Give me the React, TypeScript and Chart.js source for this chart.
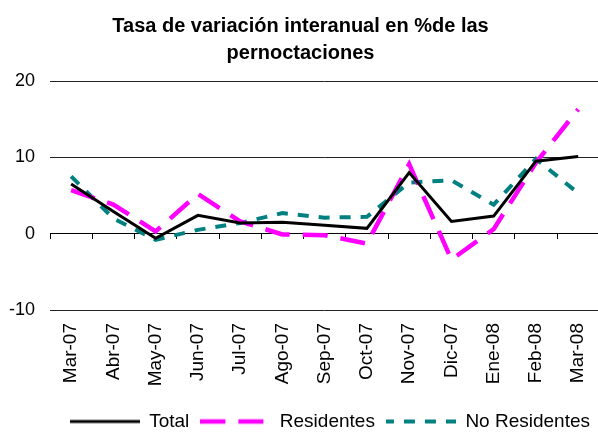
import React, { useEffect, useRef } from "react";
import { Chart, registerables } from "chart.js";

Chart.register(...registerables);

const categories = ["Mar-07", "Abr-07", "May-07", "Jun-07", "Jul-07", "Ago-07", "Sep-07", "Oct-07", "Nov-07", "Dic-07", "Ene-08", "Feb-08", "Mar-08"];
const total = [6.5, 2.9, -0.6, 2.4, 1.4, 1.5, 1.1, 0.7, 8.0, 1.6, 2.3, 9.5, 10.1];
const residentes = [5.7, 3.8, 0.3, 5.2, 1.6, -0.1, -0.2, -1.3, 9.1, -3.4, 0.6, 9.3, 16.3];
const noResidentes = [7.5, 2.0, -0.8, 0.5, 1.4, 2.7, 2.1, 2.2, 6.7, 7.0, 3.8, 9.8, 5.3];
const titleLines = ["Tasa de variación interanual en %de las", "pernoctaciones"];

function lineSample(color: string, width: number, dash: number[], offset: number) {
  const c = document.createElement("canvas");
  c.width = 70;
  c.height = 10;
  const ctx = c.getContext("2d")!;
  ctx.strokeStyle = color;
  ctx.lineWidth = width;
  ctx.lineCap = "butt";
  ctx.setLineDash(dash);
  ctx.lineDashOffset = offset;
  ctx.beginPath();
  ctx.moveTo(0, 5);
  ctx.lineTo(70, 5);
  ctx.stroke();
  return c;
}

export default function App() {
  const ref = useRef<HTMLCanvasElement>(null);
  useEffect(() => {
    if (!ref.current) return;
    const font = "'Liberation Sans', Arial, sans-serif";
    const samples = [
      lineSample("#000000", 3, [], 0),
      lineSample("#FF00FF", 4.5, [25, 13], 0),
      lineSample("#008080", 4, [11, 10], 3),
    ];
    const chart = new Chart(ref.current, {
      type: "line",
      data: {
        labels: categories,
        datasets: [
          { label: "Total", data: total, borderColor: "#000000", backgroundColor: "#000000", borderWidth: 3, pointRadius: 0, tension: 0 },
          { label: "Residentes", data: residentes, borderColor: "#FF00FF", backgroundColor: "#FF00FF", borderWidth: 4.5, borderDash: [25, 13], pointRadius: 0, tension: 0 },
          { label: "No Residentes", data: noResidentes, borderColor: "#008080", backgroundColor: "#008080", borderWidth: 4, borderDash: [11, 10], pointRadius: 0, tension: 0 },
        ],
      },
      options: {
        responsive: false,
        animation: false,
        devicePixelRatio: 1,
        layout: { padding: { left: 0, right: 0, top: 0, bottom: 0 } },
        font: { family: font },
        plugins: {
          tooltip: { enabled: false },
          title: {
            display: true,
            text: titleLines,
            color: "#000",
            font: { family: font, size: 20, weight: "bold", lineHeight: 1.35 },
            padding: { top: 13, bottom: 14 },
          },
          legend: {
            position: "bottom",
            align: "end",
            labels: {
              color: "#000",
              font: { family: font, size: 19 },
              usePointStyle: true,
              pointStyleWidth: 70,
              padding: 11,
              generateLabels: (ch: any) => {
                const items = Chart.defaults.plugins.legend.labels.generateLabels(ch);
                return items.map((it: any, i: number) => ({ ...it, pointStyle: samples[i] }));
              },
            },
          },
        },
        scales: {
          x: {
            type: "category",
            offset: true,
            grid: { display: true, color: "rgba(0,0,0,0)", drawOnChartArea: false, drawTicks: true, tickLength: 13 },
            border: { display: false },
            ticks: { color: "#000", font: { family: font, size: 19 }, minRotation: 90, maxRotation: 90, padding: 0, autoSkip: false },
            afterFit: (scale: any) => { scale.height = 91; },
          },
          x2: {
            type: "category",
            position: { y: 0 } as any,
            offset: true,
            grid: { display: true, offset: true, drawOnChartArea: false, drawTicks: true, tickLength: 5, color: "#000", lineWidth: 1 },
            border: { display: true, color: "#000", width: 1 },
            ticks: { display: false },
          },
          y: {
            min: -10,
            max: 20,
            ticks: { stepSize: 10, color: "#000", font: { family: font, size: 18 }, padding: 15 },
            grid: { color: "#222", lineWidth: 1, drawTicks: false },
            border: { display: false },
            afterFit: (scale: any) => { scale.width = 50; },
          },
        },
      },
    });
    return () => chart.destroy();
  }, []);
  return (
    <div style={{ position: "fixed", left: 0, top: 0, width: 598, height: 433, overflow: "hidden", background: "#fff" }}>
      <canvas ref={ref} width={601} height={441} />
    </div>
  );
}
